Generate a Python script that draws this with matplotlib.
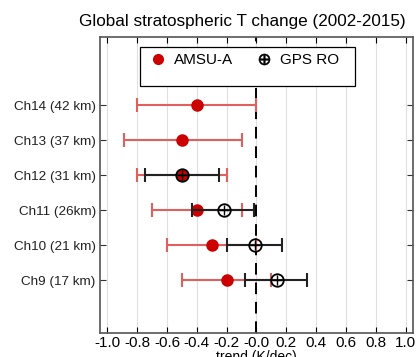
import numpy as np
from matplotlib import pyplot as plt
from matplotlib.patches import Rectangle

plt.rcParams['font.family'] = ['Liberation Sans', 'DejaVu Sans']

channels = ['Ch9 (17 km)', 'Ch10 (21 km)', 'Ch11 (26km)', 'Ch12 (31 km)', 'Ch13 (37 km)', 'Ch14 (42 km)']

# AMSU-A trend and error bar ends (K/dec)
amsu = [-0.20, -0.30, -0.40, -0.50, -0.50, -0.40]
amsu_lo = [-0.50, -0.60, -0.70, -0.80, -0.89, -0.80]
amsu_hi = [0.10, 0.00, -0.10, -0.20, -0.10, 0.00]

# GPS RO (only Ch9-Ch12)
gps = [0.14, -0.01, -0.22, -0.50]
gps_lo = [-0.08, -0.20, -0.43, -0.75]
gps_hi = [0.34, 0.17, -0.02, -0.25]

y = np.arange(1, len(channels) + 1)
yg = y[:len(gps)]

fig = plt.figure(figsize=(4.17, 3.57), dpi=100)
ax = fig.add_axes([0.2398, 0.0672, 0.7506, 0.830])

red = '#cc0000'
amsu = np.array(amsu)
gps = np.array(gps)
xerr_a = [amsu - np.array(amsu_lo), np.array(amsu_hi) - amsu]
xerr_g = [gps - np.array(gps_lo), np.array(gps_hi) - gps]

ax.axvline(0, color='k', lw=1.4, dashes=(6, 4), zorder=1)

ax.errorbar(amsu, y, xerr=xerr_a, fmt='none', ecolor='#e06060', elinewidth=1.5,
            capsize=5, capthick=1.5, zorder=2)
ax.plot(amsu, y, 'o', color=red, ms=8, zorder=3)
ax.errorbar(gps, yg, xerr=xerr_g, fmt='none', ecolor='#222222', elinewidth=1.5,
            capsize=5, capthick=1.5, zorder=4)
ax.plot(gps, yg, 'o', mfc='none', mec='k', mew=1.3, ms=9, zorder=5)
ax.plot(gps, yg, '+', color='k', mew=1.0, ms=7, zorder=5)

# legend: entries without frame, frame drawn as a box
h1, = ax.plot([], [], 'o', color=red, ms=7)
h2, = ax.plot([], [], marker=r'$\oplus$', color='k', ls='none', ms=8, mew=0.4)
ax.legend([h1, h2], ['AMSU-A', 'GPS RO'], ncol=2, loc='center',
          bbox_to_anchor=(0.457, 0.921), frameon=False,
          fontsize=11, handletextpad=0.3, columnspacing=1.3, handlelength=1.5)
ax.add_patch(Rectangle((0.128, 0.834), 0.687, 0.132, transform=ax.transAxes,
                       fc='white', ec='k', lw=0.9, zorder=6))
ax.get_legend().set_zorder(7)

ax.set_xlim(-1.05, 1.05)
ax.set_ylim(-0.5, 7.95)
ax.set_xticks(np.arange(-1.0, 1.01, 0.2))
ax.set_xticklabels(['%.1f' % v for v in np.arange(-1.0, 1.01, 0.2)])
ax.set_yticks(y)
ax.set_yticklabels(channels)
ax.grid(axis='x', color='#e0e0e0', lw=0.8)
ax.set_axisbelow(True)
ax.tick_params(direction='in', top=True, right=True, length=4, pad=3)
ax.tick_params(axis='x', labelsize=11, pad=2)
ax.tick_params(axis='y', labelsize=9.7, colors='#333333', labelcolor='#222222')
for s in ax.spines.values():
    s.set_color('#555555')
    s.set_linewidth(1.2)
ax.set_xlabel('trend (K/dec)', fontsize=10, labelpad=0)
ax.set_title('Global stratospheric T change (2002-2015)', fontsize=12.3, pad=8, x=0.455)

plt.savefig('out.png', dpi=100)
